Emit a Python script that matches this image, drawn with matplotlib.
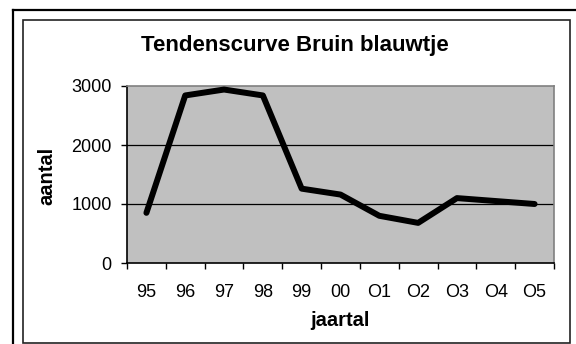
import numpy as np
import matplotlib
matplotlib.use("Agg")
from matplotlib import pyplot as plt
from matplotlib.patches import Rectangle
from matplotlib.lines import Line2D

plt.rcParams['font.family'] = ['Liberation Sans', 'DejaVu Sans']

years = ['95', '96', '97', '98', '99', '00', 'O1', 'O2', 'O3', 'O4', 'O5']
counts = [850, 2840, 2940, 2840, 1260, 1160, 800, 680, 1100, 1050, 1000]
yticks = [0, 1000, 2000, 3000]

W, H = 576, 344
fig = plt.figure(figsize=(W / 100, H / 100), dpi=100)

def fx(px):
    return px / W

def fy(py):
    return 1 - py / H

# outer and inner chart frames
fig.add_artist(Line2D([fx(12.5), fx(12.5)], [fy(9.5), 0], color='black', lw=1.6, transform=fig.transFigure))
fig.add_artist(Line2D([fx(12.5), 1], [fy(9.5), fy(9.5)], color='black', lw=1.6, transform=fig.transFigure))
fig.add_artist(Rectangle((fx(22.5), fy(343)), fx(570) - fx(22.5), fy(20) - fy(343),
                         fill=False, ec='#222222', lw=1.2, transform=fig.transFigure))

ax = fig.add_axes([fx(127), fy(263), fx(554) - fx(127), fy(86) - fy(263)])
ax.set_facecolor('#c0c0c0')
x = np.arange(len(years))
ax.plot(x, counts, color='black', lw=4.3, solid_joinstyle='round', solid_capstyle='round', zorder=3)

ax.set_xlim(-0.5, len(years) - 0.5)
ax.set_ylim(0, 3000)
ax.set_yticks(yticks)
ax.set_yticklabels([str(v) for v in yticks], fontsize=13)
for v in yticks[1:-1]:
    ax.axhline(v, color='black', lw=0.9, zorder=1)

ax.set_xticks(np.arange(-0.5, len(years)), labels=[])
ax.set_xticks(x, labels=years, minor=True)
ax.tick_params(axis='x', which='major', direction='out', length=4, width=1)
ax.tick_params(axis='x', which='minor', length=0, pad=15, labelsize=13)
ax.tick_params(axis='y', direction='out', length=4, width=1, pad=7)

ax.spines['left'].set_color('black')
ax.spines['bottom'].set_color('black')
ax.spines['top'].set_color('#808080')
ax.spines['right'].set_color('#808080')
for s in ax.spines.values():
    s.set_linewidth(1.2)

fig.text(fx(295), fy(45), 'Tendenscurve Bruin blauwtje', fontsize=16, fontweight='bold',
         ha='center', va='center')
fig.text(fx(340), fy(321), 'jaartal', fontsize=14.5, fontweight='bold', ha='center', va='center')
fig.text(fx(46.5), fy(176), 'aantal', fontsize=14.5, fontweight='bold', ha='center', va='center',
         rotation=90)

fig.savefig('out.png', dpi=100)
